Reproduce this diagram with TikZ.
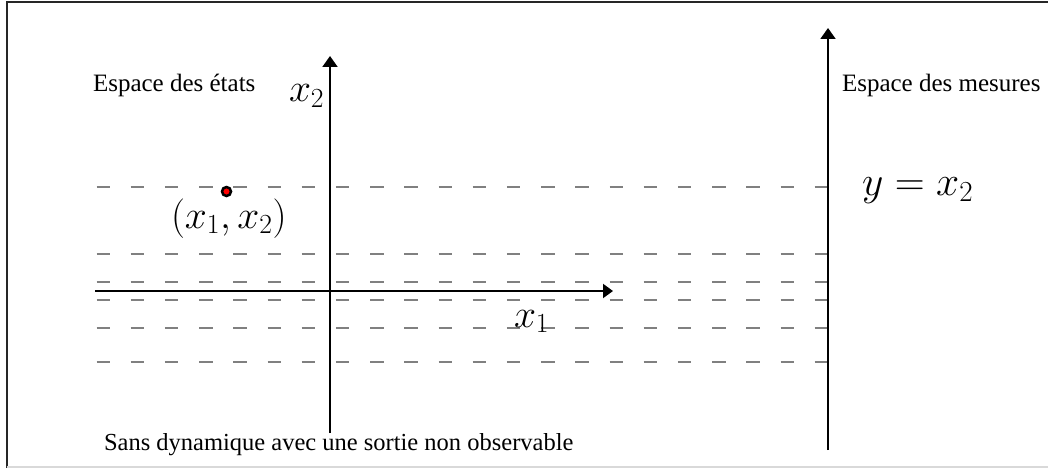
\RequirePackage{fix-cm}
\documentclass[tikz,border=0pt]{standalone}
\usepackage{fontspec}
\setmainfont{Liberation Serif}
\usetikzlibrary{arrows.meta}
\tikzset{
  axis/.style={line width=2pt,-{Triangle[length=11pt,width=15pt]}},
  guide/.style={line width=1.4pt,draw=black!50,dash pattern=on 13.5pt off 20.7pt},
  lbl/.style={anchor=base west,inner sep=0pt,outer sep=0pt},
  mathlbl/.style={anchor=base west,inner sep=0pt,outer sep=0pt,font=\fontsize{39.5}{44}\selectfont},
  txt/.style={anchor=base west,inner sep=0pt,outer sep=0pt,font=\fontsize{25}{28}\selectfont},
}
\begin{document}
\begin{tikzpicture}[x=1pt,y=-1pt]
\useasboundingbox (0,0) rectangle (1048,468);
% frame
\draw[line width=2pt,black!85] (6.5,468) -- (6.5,2) -- (1048,2);
\draw[line width=1.5pt,black!15] (6.5,467) -- (1048,467);
% dashed guide lines
\foreach \yy in {187,254,282,300,328,362}{
  \coordinate (gl\yy) at (96.5,\yy);
  \coordinate (gr\yy) at (828,\yy);
  \draw[guide] (gl\yy) -- (gr\yy);
}
% axes
\coordinate (vb) at (330,433);
\coordinate (vt) at (330,56);
\coordinate (hl) at (95,291);
\coordinate (hr) at (613,291);
\coordinate (rb) at (828,450);
\coordinate (rt) at (828,28);
\draw[axis] (vb) -- (vt);
\draw[axis,-{Triangle[length=10pt,width=14pt]}] (hl) -- (hr);
\draw[axis] (rb) -- (rt);
% point
\node[circle,draw=black,fill=red,line width=2.5pt,minimum size=9pt,inner sep=0pt] (pt) at (226.5,191.5) {};
% labels
\node[txt] (etats) at (93,92) {Espace des états};
\node[txt] (mesures) at (842,92) {Espace des mesures};
\node[lbl,font=\fontsize{24.5}{28}\selectfont] (titre) at (104,450) {Sans dynamique avec une sortie non observable};
\node[mathlbl] (x2) at (289,102) {$x_2$};
\node[mathlbl] (x1) at (514,327) {$x_1$};
\node[mathlbl] (pl) at (171,228) {$(x_1,x_2)$};
\node[mathlbl,font=\fontsize{41.5}{46}\selectfont] (yx) at (862,195) {$y=x_2$};
\end{tikzpicture}
\end{document}
